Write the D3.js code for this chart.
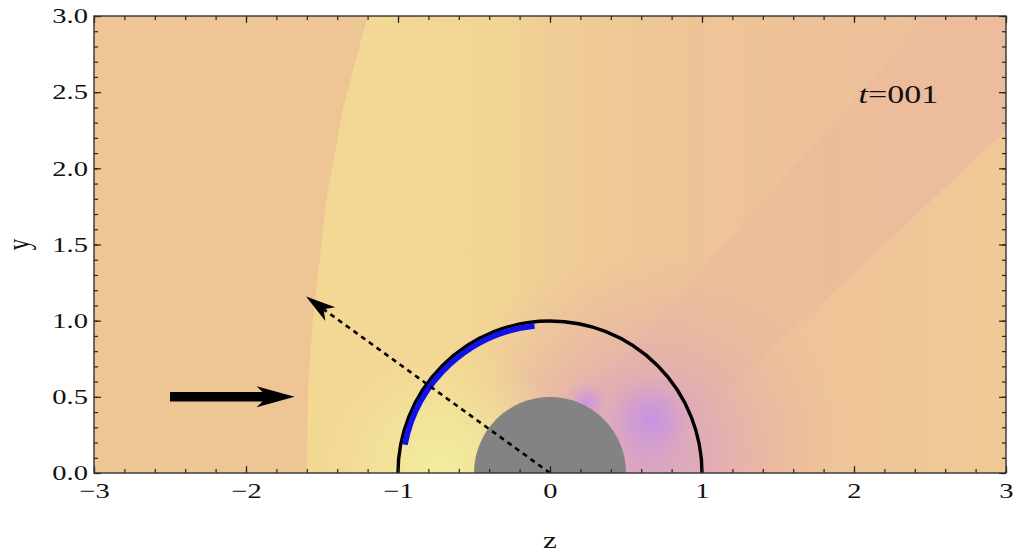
<!DOCTYPE html>
<html>
<head>
<meta charset="utf-8">
<script src="https://cdn.jsdelivr.net/npm/d3@7"></script>
<style>
  html, body { margin: 0; padding: 0; background: #fff; }
  svg { display: block; }
  .tick text { font-family: "Liberation Serif", "DejaVu Serif", serif; font-size: 21px; fill: #111; }
</style>
</head>
<body>
<svg id="chart" width="1016" height="554"></svg>
<script>
// ---------------- data ----------------
const xDomain = [-3, 3];
const yDomain = [0, 3];
const xMajorTicks = [-3, -2, -1, 0, 1, 2, 3];
const yMajorTicks = [0, 0.5, 1.0, 1.5, 2.0, 2.5, 3.0];
const xMinorStep = 0.2;
const yMinorStep = 0.1;
const xLabel = "z";
const yLabel = "y";
const timeLabel = { pre: "t", post: "=001", z: 2.03, y: 2.43 };

const outerCircleR = 1.0;          // black semicircle
const sphereR = 0.5;               // gray body
const blueArc = { r: 0.972, fromDeg: 169, toDeg: 96 };
const flowArrow = [[-2.5, 0.5], [-1.68, 0.5]];
const dashedArrow = [[0, 0], [-1.605, 1.158]];

// background field features (data coordinates)
const shockEdge = [[-1.60, 0], [-1.59, 0.6], [-1.56, 1.0], [-1.47, 1.8], [-1.36, 2.4], [-1.20, 3]];
const rayUpper = [[0.22, 0.48], [2.5, 3.0]];
const rayLower = [[0.99, 0.37], [3.0, 2.25]];
const yellowGlow = { z: -0.72, y: 0.05, r: 0.85 };
const pinkGlow = { z: 0.62, y: 0.12, r: 1.35 };
const purpleBlob = { z: 0.66, y: 0.35, r: 0.3 };
const purpleSpot = { z: 0.24, y: 0.47, r: 0.14 };

// ---------------- layout ----------------
const svg = d3.select("#chart");
const x = d3.scaleLinear(xDomain, [94, 1006]);
const y = d3.scaleLinear(yDomain, [473, 16]);
const ux = x(1) - x(0);
const stretch = 1.36;   // reference text is horizontally widened
const defs = svg.append("defs");

defs.append("clipPath").attr("id", "plotClip")
  .append("rect").attr("x", x(-3)).attr("y", y(3))
  .attr("width", x(3) - x(-3)).attr("height", y(0) - y(3));

function linGrad(id, x1, x2, stops) {
  const g = defs.append("linearGradient").attr("id", id)
    .attr("gradientUnits", "userSpaceOnUse")
    .attr("x1", x1[0]).attr("y1", x1[1]).attr("x2", x2[0]).attr("y2", x2[1]);
  stops.forEach(s => g.append("stop").attr("offset", s[0]).attr("stop-color", s[1]).attr("stop-opacity", s[2]));
}
function radGrad(id, c, stops) {
  const g = defs.append("radialGradient").attr("id", id)
    .attr("gradientUnits", "userSpaceOnUse")
    .attr("cx", x(c.z)).attr("cy", y(c.y)).attr("r", c.r * ux);
  stops.forEach(s => g.append("stop").attr("offset", s[0]).attr("stop-color", s[1]).attr("stop-opacity", s[2]));
}

linGrad("gYellow", [x(-1.6), 0], [x(0.9), 0], [
  [0, "#F3D894", 1], [0.5, "#F2D594", 1], [0.68, "#F1D096", 0.6], [1, "#F0CC96", 0]]);
linGrad("gPinkTop", [x(0.3), 0], [x(2.4), 0], [
  [0, "#ECBC9C", 0], [1, "#ECBC9C", 0.6]]);
linGrad("gLowerRight", [x(1.2), 0], [x(2.9), 0], [
  [0, "#F1CA95", 0.0], [1, "#F1CA95", 0.85]]);
radGrad("gPink", pinkGlow, [
  [0, "#D69ECB", 0.9], [0.35, "#DEA6BC", 0.75], [0.7, "#E6B1A8", 0.4], [1, "#EAB8A0", 0]]);
radGrad("gYellowGlow", yellowGlow, [
  [0, "#F1EE9E", 1], [0.45, "#F2E59A", 0.8], [1, "#F2DA96", 0]]);
radGrad("gPurple", purpleBlob, [
  [0, "#C48FEA", 0.9], [0.5, "#CB96DC", 0.55], [1, "#D6A0CC", 0]]);
radGrad("gPurpleSpot", purpleSpot, [
  [0, "#C58FEA", 0.85], [1, "#D39CD2", 0]]);

const field = svg.append("g").attr("clip-path", "url(#plotClip)");
const line = d3.line().x(d => x(d[0])).y(d => y(d[1]));

// base
field.append("rect").attr("x", x(-3)).attr("y", y(3))
  .attr("width", x(3) - x(-3)).attr("height", y(0) - y(3)).attr("fill", "#EEC696");
// pinkish top right
field.append("rect").attr("x", x(0.3)).attr("y", y(3))
  .attr("width", x(3) - x(0.3)).attr("height", y(0) - y(3)).attr("fill", "url(#gPinkTop)");
// yellow band behind the front
field.append("path")
  .attr("d", line(shockEdge.concat([[1.0, 3], [1.0, 0]])) + "Z")
  .attr("fill", "url(#gYellow)");
// ray band
field.append("path")
  .attr("d", line([rayUpper[0], rayUpper[1], [3.2, 3.2], rayLower[1], rayLower[0]]) + "Z")
  .attr("fill", "#E6AFA2").attr("opacity", 0.22);
// lower right lighter region
field.append("path")
  .attr("d", line([rayLower[0], rayLower[1], [3.0, 0], [1.0, 0]]) + "Z")
  .attr("fill", "url(#gLowerRight)");
// glows
field.append("circle").attr("cx", x(pinkGlow.z)).attr("cy", y(pinkGlow.y)).attr("r", pinkGlow.r * ux).attr("fill", "url(#gPink)");
field.append("circle").attr("cx", x(yellowGlow.z)).attr("cy", y(yellowGlow.y)).attr("r", yellowGlow.r * ux).attr("fill", "url(#gYellowGlow)");
field.append("circle").attr("cx", x(purpleBlob.z)).attr("cy", y(purpleBlob.y)).attr("r", purpleBlob.r * ux).attr("fill", "url(#gPurple)");
field.append("circle").attr("cx", x(purpleSpot.z)).attr("cy", y(purpleSpot.y)).attr("r", purpleSpot.r * ux).attr("fill", "url(#gPurpleSpot)");

// gray sphere
field.append("circle").attr("cx", x(0)).attr("cy", y(0)).attr("r", sphereR * ux).attr("fill", "#838383");

// black semicircle
const semi = d3.path();
semi.arc(x(0), y(0), outerCircleR * ux, Math.PI, 2 * Math.PI, false);
field.append("path").attr("d", semi.toString()).attr("fill", "none")
  .attr("stroke", "#000").attr("stroke-width", 3.4);

// blue arc
const deg = Math.PI / 180;
const bp = d3.path();
bp.arc(x(0), y(0), blueArc.r * ux, -blueArc.fromDeg * deg, -blueArc.toDeg * deg, false);
field.append("path").attr("d", bp.toString()).attr("fill", "none")
  .attr("stroke", "#1010F0").attr("stroke-width", 5.5);

// arrow helper
function arrowHead(g, from, to, len, half, notch) {
  const x0 = x(from[0]), y0 = y(from[1]), x1 = x(to[0]), y1 = y(to[1]);
  const L = Math.hypot(x1 - x0, y1 - y0);
  const ux_ = (x1 - x0) / L, uy_ = (y1 - y0) / L;
  const nx = -uy_, ny = ux_;
  const bx = x1 - ux_ * len, by = y1 - uy_ * len;
  const pts = [
    [x1, y1],
    [bx + nx * half, by + ny * half],
    [x1 - ux_ * len * notch, y1 - uy_ * len * notch],
    [bx - nx * half, by - ny * half]
  ];
  g.append("path").attr("d", "M" + pts.map(p => p.join(",")).join("L") + "Z").attr("fill", "#000");
  return [x1 - ux_ * len * notch, y1 - uy_ * len * notch];
}

// flow arrow
{
  const g = field.append("g");
  const base = arrowHead(g, flowArrow[0], flowArrow[1], 38, 10.5, 0.72);
  g.append("line").attr("x1", x(flowArrow[0][0])).attr("y1", y(flowArrow[0][1]))
    .attr("x2", base[0] + 2).attr("y2", base[1])
    .attr("stroke", "#000").attr("stroke-width", 9.5);
}
// dashed arrow
{
  const g = field.append("g");
  const base = arrowHead(g, dashedArrow[0], dashedArrow[1], 30, 8.5, 0.72);
  g.append("line").attr("x1", x(dashedArrow[0][0])).attr("y1", y(dashedArrow[0][1]))
    .attr("x2", base[0]).attr("y2", base[1])
    .attr("stroke", "#000").attr("stroke-width", 2.6).attr("stroke-dasharray", "5,4.5");
}

// ---------------- axes ----------------
const fmtY = d3.format(".1f");
const fmtX = d3.format("d");
const xMinor = d3.range(-3, 3.0001, xMinorStep).map(v => +v.toFixed(2));
const yMinor = d3.range(0, 3.0001, yMinorStep).map(v => +v.toFixed(2));

function styleAxis(g) {
  g.select(".domain").remove();
  g.selectAll(".tick line").attr("stroke", "#222").attr("stroke-width", 1.2);
}
// bottom
svg.append("g").attr("transform", `translate(0,${y(0)})`)
  .call(d3.axisBottom(x).tickValues(xMinor).tickSize(-4).tickFormat("")).call(styleAxis);
const bottomMajor = svg.append("g").attr("transform", `translate(0,${y(0)})`)
  .call(d3.axisBottom(x).tickValues(xMajorTicks).tickSize(-7).tickPadding(10).tickFormat(fmtX)).call(styleAxis);
bottomMajor.selectAll(".tick text").attr("transform", `scale(${stretch},1)`);
// top
svg.append("g").attr("transform", `translate(0,${y(3)})`)
  .call(d3.axisTop(x).tickValues(xMinor).tickSize(-4).tickFormat("")).call(styleAxis);
svg.append("g").attr("transform", `translate(0,${y(3)})`)
  .call(d3.axisTop(x).tickValues(xMajorTicks).tickSize(-7).tickFormat("")).call(styleAxis);
// left
svg.append("g").attr("transform", `translate(${x(-3)},0)`)
  .call(d3.axisLeft(y).tickValues(yMinor).tickSize(-4).tickFormat("")).call(styleAxis);
const leftMajor = svg.append("g").attr("transform", `translate(${x(-3)},0)`)
  .call(d3.axisLeft(y).tickValues(yMajorTicks).tickSize(-7).tickPadding(6).tickFormat(fmtY)).call(styleAxis);
leftMajor.selectAll(".tick text").attr("x", -6 / stretch).attr("transform", `scale(${stretch},1)`);
// right
svg.append("g").attr("transform", `translate(${x(3)},0)`)
  .call(d3.axisRight(y).tickValues(yMinor).tickSize(-4).tickFormat("")).call(styleAxis);
svg.append("g").attr("transform", `translate(${x(3)},0)`)
  .call(d3.axisRight(y).tickValues(yMajorTicks).tickSize(-7).tickFormat("")).call(styleAxis);

// frame
svg.append("rect").attr("x", x(-3)).attr("y", y(3))
  .attr("width", x(3) - x(-3)).attr("height", y(0) - y(3))
  .attr("fill", "none").attr("stroke", "#333").attr("stroke-width", 1.4);

// axis labels
svg.append("text").attr("transform", `translate(${x(0)},548) scale(${stretch},1)`).attr("text-anchor", "middle")
  .attr("font-family", "Liberation Serif, serif").attr("font-size", 23).attr("fill", "#111").text(xLabel);
svg.append("text").attr("transform", `translate(29,${y(1.5)}) rotate(-90) scale(1,${stretch})`).attr("text-anchor", "middle")
  .attr("font-family", "Liberation Serif, serif").attr("font-size", 23).attr("fill", "#111").text(yLabel);

// time label
const tl = svg.append("text")
  .attr("transform", `translate(${x(timeLabel.z)},${y(timeLabel.y)}) scale(${stretch},1)`)
  .attr("font-family", "Liberation Serif, serif").attr("font-size", 25).attr("fill", "#111");
tl.append("tspan").attr("font-style", "italic").text(timeLabel.pre);
tl.append("tspan").text(timeLabel.post);
</script>
</body>
</html>
